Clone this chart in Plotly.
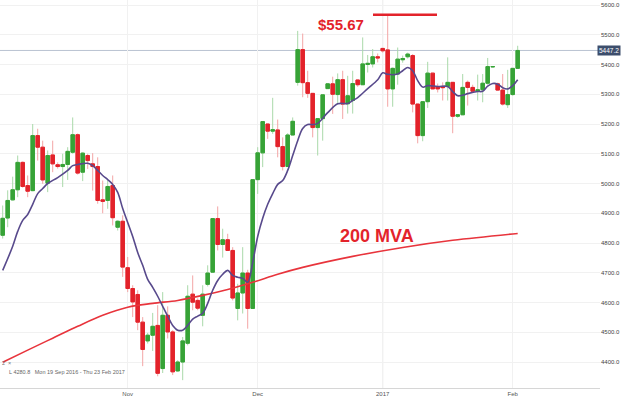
import pandas as pd
import plotly.graph_objects as go

# ---- data -------------------------------------------------------------
# daily (Sun-Fri) sessions, 3 Oct 2016 - 2 Feb 2017, without 25 Dec and 1 Jan
holidays = ["2016-12-25", "2017-01-01"]
_days = pd.date_range("2016-10-03", "2017-02-02", freq="D")
dates = [d.strftime("%Y-%m-%d") for d in _days
         if d.weekday() != 5 and d.strftime("%Y-%m-%d") not in holidays]

opens = [4826, 4884, 4945, 4979, 5071, 4993, 4976, 5161, 5122, 5001,
         5096, 5063, 5057, 5064, 5105, 5164, 5038, 5094, 5066, 5057,
         4945, 4943, 4993, 4853, 4873, 4717, 4647, 4627, 4534, 4471,
         4490, 4523, 4378, 4557, 4501, 4370, 4400, 4463, 4628, 4607,
         4557, 4661, 4702, 4882, 4795, 4811, 4775, 4580, 4632, 4699,
         4580, 5013, 5103, 5200, 5176, 5180, 5124, 5057, 5163, 5340,
         5450, 5339, 5303, 5188, 5218, 5319, 5335, 5299, 5349, 5268,
         5279, 5348, 5332, 5400, 5402, 5426, 5454, 5449, 5318, 5368,
         5416, 5426, 5430, 5267, 5161, 5275, 5371, 5326, 5326, 5326,
         5340, 5226, 5231, 5340, 5323, 5310, 5315, 5337, 5392, 5335,
         5314, 5265, 5299, 5387]
highs = [4926, 4977, 5023, 5094, 5074, 5027, 5200, 5184, 5144, 5111,
         5144, 5071, 5100, 5122, 5222, 5168, 5105, 5100, 5102, 5088,
         5010, 5010, 5027, 4876, 4893, 4753, 4658, 4641, 4551, 4498,
         4565, 4591, 4635, 4587, 4507, 4406, 4484, 4658, 4691, 4614,
         4658, 4725, 4883, 4923, 4848, 4831, 4786, 4663, 4786, 4710,
         5013, 5122, 5208, 5200, 5288, 5215, 5155, 5169, 5222, 5513,
         5504, 5379, 5303, 5218, 5299, 5336, 5359, 5370, 5379, 5362,
         5379, 5349, 5491, 5432, 5452, 5437, 5456, 5567, 5390, 5457,
         5430, 5440, 5435, 5268, 5275, 5409, 5372, 5336, 5340, 5424,
         5340, 5232, 5368, 5346, 5332, 5366, 5368, 5422, 5394, 5339,
         5368, 5382, 5387, 5463]
lows = [4815, 4853, 4943, 4954, 4986, 4954, 4974, 5077, 4999, 4971,
        5038, 5050, 4988, 5012, 5100, 5030, 5008, 5049, 4976, 4932,
        4900, 4915, 4859, 4842, 4686, 4635, 4551, 4507, 4386, 4462,
        4437, 4352, 4363, 4479, 4356, 4367, 4339, 4456, 4574, 4574,
        4520, 4654, 4701, 4775, 4751, 4775, 4607, 4540, 4563, 4512,
        4580, 4965, 5055, 5150, 5167, 5088, 5044, 5057, 5163, 5329,
        5290, 5288, 5155, 5094, 5144, 5319, 5234, 5267, 5217, 5235,
        5235, 5325, 5332, 5373, 5390, 5407, 5440, 5258, 5258, 5332,
        5406, 5420, 5239, 5135, 5142, 5254, 5317, 5306, 5279, 5279,
        5169, 5221, 5230, 5262, 5308, 5279, 5273, 5332, 5390, 5312,
        5262, 5254, 5295, 5386]
closes = [4883, 4943, 4979, 5071, 4990, 4974, 5161, 5122, 5012, 5094,
          5066, 5057, 5064, 5108, 5164, 5035, 5102, 5077, 5057, 4943,
          4940, 4990, 4885, 4873, 4719, 4647, 4602, 4534, 4442, 4490,
          4520, 4362, 4557, 4501, 4367, 4400, 4471, 4621, 4601, 4581,
          4628, 4699, 4882, 4795, 4811, 4775, 4615, 4632, 4699, 4580,
          5013, 5103, 5208, 5176, 5181, 5124, 5057, 5163, 5209, 5450,
          5339, 5303, 5188, 5218, 5298, 5335, 5300, 5349, 5267, 5295,
          5336, 5332, 5402, 5404, 5426, 5422, 5446, 5318, 5387, 5418,
          5420, 5435, 5267, 5161, 5275, 5371, 5318, 5318, 5322, 5340,
          5226, 5231, 5323, 5323, 5310, 5315, 5337, 5393, 5393, 5314,
          5267, 5299, 5387, 5447.2]

# short moving average (purple), one value per session, None where not read
ma_short = [4708, None, 4789, 4839, 4876, 4896, 4930, 4966, 4983, 5000,
            None, 5020, None, 5044, 5060, 5064, None, 5068, 5060, 5044,
            5027, 5013, 4997, 4970, 4916, 4869, 4822, 4768, 4725, 4678,
            4651, 4621, 4587, 4554, 4523, 4507, 4507, 4523, 4544, 4554,
            4564, 4597, 4641, 4674, 4695, 4708, 4691, 4685, 4681, 4668,
            4735, 4822, 4883, 4930, 4966, 4997, 5010, 5044, 5094, 5144,
            5185, 5198, 5198, 5202, None, 5238, None, 5268, None, 5269,
            5279, 5289, None, 5319, None, 5349, 5372, 5367, None, 5368,
            5379, 5390, 5379, 5346, 5324, 5329, None, 5326, None, 5326,
            5309, 5295, 5297, 5302, None, 5309, 5310, 5327, 5336, 5334,
            5322, 5318, 5329, 5349]

# 200-period moving average (red), read every few sessions
ma200 = [None] * len(dates)
ma200_read = {0: 4399, 5: 4440, 10: 4480, 15: 4520, 20: 4557, 25: 4584,
              30: 4597, 35: 4607, 40: 4624, 45: 4644, 50: 4668, 55: 4695,
              60: 4718, 70: 4755, 80: 4785, 90: 4809, 103: 4832}
for k, v in ma200_read.items():
    ma200[k] = v

tick_dates = ["2016-11-01", "2016-12-01", "2017-01-02", "2017-02-01"]
tick_labels = ["Nov", "Dec", "2017", "Feb"]
last_price = 5447.2

# ---- figure -----------------------------------------------------------
UP, DN = "#37a337", "#e3232b"
UP_W, DN_W = "#a9d9a9", "#f3a5a5"
FONT = "Arial, Liberation Sans, sans-serif"

fig = go.Figure()
# wicks (light)
fig.add_trace(go.Candlestick(
    x=dates, open=opens, high=highs, low=lows, close=closes,
    increasing=dict(line=dict(color=UP_W, width=1), fillcolor=UP_W),
    decreasing=dict(line=dict(color=DN_W, width=1), fillcolor=DN_W),
    whiskerwidth=0, showlegend=False, hoverinfo="skip"))
# bodies (solid)
body_hi = [max(o, c) for o, c in zip(opens, closes)]
body_lo = [min(o, c) for o, c in zip(opens, closes)]
fig.add_trace(go.Candlestick(
    x=dates, open=opens, high=body_hi, low=body_lo, close=closes,
    increasing=dict(line=dict(color=UP, width=1), fillcolor=UP),
    decreasing=dict(line=dict(color=DN, width=1), fillcolor=DN),
    whiskerwidth=0, showlegend=False))
fig.add_trace(go.Scatter(x=dates, y=ma200, mode="lines", connectgaps=True,
                         line=dict(color="#e8343c", width=1.6, shape="spline"),
                         showlegend=False))
fig.add_trace(go.Scatter(x=dates, y=ma_short, mode="lines", connectgaps=True,
                         line=dict(color="#584a8c", width=1.6, shape="spline"),
                         showlegend=False))

shapes = [
    dict(type="line", xref="paper", x0=0, x1=1, yref="y", y0=last_price, y1=last_price,
         line=dict(color="#b9c3d2", width=1), layer="below"),
    dict(type="line", xref="x", x0="2017-01-02", x1="2017-01-02", yref="paper", y0=0, y1=1,
         line=dict(color="#dcdcdc", width=1), layer="below"),
    dict(type="line", xref="paper", x0=373 / 600, x1=437 / 600, yref="y",
         y0=max(highs), y1=max(highs), line=dict(color="#e3232b", width=2.5)),
]

annotations = [
    dict(text="5447.2", xref="paper", x=1, xanchor="left", xshift=-3,
         yref="y", y=last_price, showarrow=False, bgcolor="#3d4e6c",
         font=dict(family=FONT, size=6.5, color="white"), borderpad=1),
    dict(text="<b>$55.67</b>", xref="paper", x=341 / 600, yref="paper", y=1 - 14 / 388,
         showarrow=False, font=dict(family=FONT, size=15, color="#e3232b")),
    dict(text="<b>200 MVA</b>", xref="paper", x=377 / 600, yref="paper", y=1 - 236 / 388,
         showarrow=False, font=dict(family=FONT, size=18, color="#e3232b")),
    dict(text="2  ×", xref="paper", x=0, xanchor="left", yref="paper", y=1 - 368 / 388,
         showarrow=False, font=dict(family=FONT, size=5.5, color="#777")),
    dict(text="L 4280.8   Mon 19 Sep 2016 - Thu 23 Feb 2017", xref="paper", x=7 / 600,
         xanchor="left", yref="paper", y=1 - 377 / 388, showarrow=False,
         font=dict(family=FONT, size=5.5, color="#666")),
]

fig.update_layout(
    width=624, height=397, margin=dict(l=0, r=24, t=0, b=9),
    paper_bgcolor="white", plot_bgcolor="white",
    boxgap=0.3, boxgroupgap=0, boxmode="overlay",
    shapes=shapes, annotations=annotations,
    font=dict(family=FONT),
    xaxis=dict(type="category", categoryorder="array", categoryarray=dates,
               range=[-0.54, 119.46], tickmode="array", tickvals=tick_dates,
               ticktext=tick_labels, showgrid=True, gridcolor="#f1f1f1",
               tickfont=dict(size=6, color="#555"), showline=True,
               linecolor="#d6d6d6", ticks="", rangeslider=dict(visible=False),
               automargin=False, fixedrange=True),
    yaxis=dict(side="right", range=[4312.6, 5616.8], dtick=100, tick0=4400,
               tickformat=".1f", showgrid=True, gridcolor="#f1f1f1",
               tickfont=dict(size=6, color="#444"), zeroline=False, ticks="",
               automargin=False, fixedrange=True),
)

fig.write_html("out.html")
